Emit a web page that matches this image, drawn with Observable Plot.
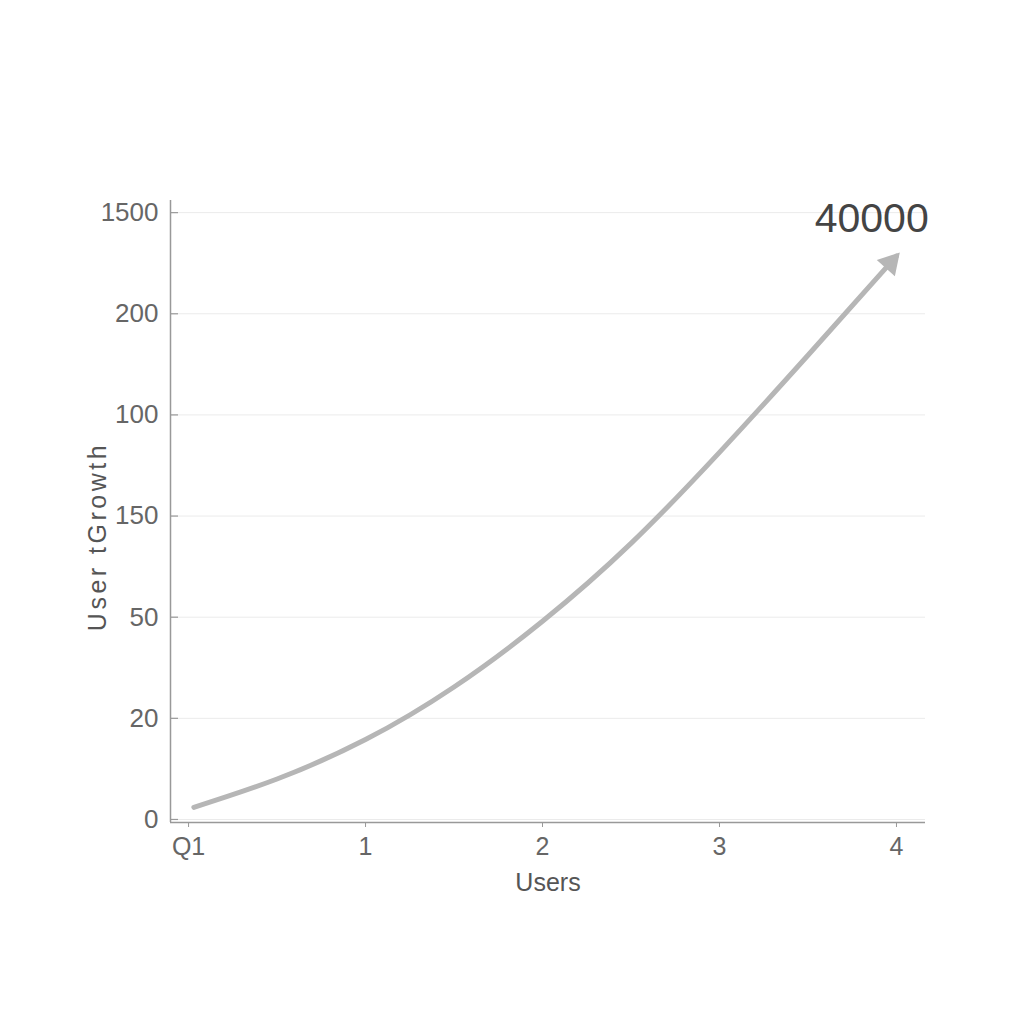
<!DOCTYPE html>
<html><head><meta charset="utf-8">
<script src="https://cdn.jsdelivr.net/npm/d3@7"></script>
<script src="https://cdn.jsdelivr.net/npm/@observablehq/plot@0.6"></script>
<style>
body{margin:0;background:#fff;}
#chart svg{display:block;}
</style>
</head><body><div id="chart"></div>
<script>
// Tick positions and their (printed) labels
const xTicks = [0, 1, 2, 3, 4];
const xTickLabels = ["Q1", "1", "2", "3", "4"];
const yTicks = [0, 1, 2, 3, 4, 5, 6];
const yTickLabels = ["0", "20", "50", "150", "100", "200", "1500"];
// Growth curve (in tick units)
const curveX = [0.03, 0.5, 1, 1.5, 2, 2.5, 3, 3.5, 4];
const curveY = [0.12, 0.40, 0.79, 1.31, 1.96, 2.73, 3.63, 4.59, 5.57];
// Annotation at the arrow head
const annotationText = ["40000"];
const annotationX = [3.86];
const annotationY = [5.94];
const xLabel = "Users";
const yLabel = "User tGrowth";

const curve = curveX.map((x, i) => ({x, y: curveY[i]}));
const last = curve[curve.length - 1];
const prev = curve[curve.length - 2];
const annotation = annotationText.map((t, i) => ({t, x: annotationX[i], y: annotationY[i]}));

const W = 1014, H = 1019;
const mL = 170, mR = 89, mT = 200, mB = 197;
const xDomain = [-0.102, 4.164];
const yDomain = [-0.03, 6.12];

// arrow direction in pixels
const sx = (W - mL - mR) / (xDomain[1] - xDomain[0]);
const sy = (H - mT - mB) / (yDomain[1] - yDomain[0]);
const ddx = (last.x - prev.x) * sx, ddy = -(last.y - prev.y) * sy;
const len = Math.hypot(ddx, ddy);
const ux = ddx / len, uy = ddy / len;
const angle = Math.atan2(ux, -uy) * 180 / Math.PI;
const back = 9;

const font = "Liberation Sans, Arial, sans-serif";
const chart = Plot.plot({
  width: W, height: H,
  marginLeft: mL, marginRight: mR, marginTop: mT, marginBottom: mB,
  style: {fontFamily: font, background: "#fff"},
  x: {domain: xDomain, ticks: xTicks, tickFormat: (d, i) => xTickLabels[xTicks.indexOf(d)], label: null},
  y: {domain: yDomain, ticks: yTicks, tickFormat: d => yTickLabels[yTicks.indexOf(d)], label: null},
  marks: [
    Plot.gridY(yTicks, {stroke: "#ebebeb", strokeOpacity: 1, strokeWidth: 1}),
    Plot.axisY(yTicks, {tickSize: 0, tickPadding: 12, fontSize: 26, fill: "#666", tickFormat: d => yTickLabels[yTicks.indexOf(d)]}),
    Plot.tickY(yTicks, {y: d => d, stroke: "#999", strokeWidth: 1.2, insetRight: W - mL - mR - 8}),
    Plot.axisX(xTicks, {tickSize: 5, tickPadding: 10, fontSize: 25, fill: "#666", stroke: "#999", tickFormat: d => xTickLabels[xTicks.indexOf(d)]}),
    Plot.ruleX([xDomain[0]], {stroke: "#999", strokeWidth: 1.5}),
    Plot.ruleY([yDomain[0]], {stroke: "#999", strokeWidth: 1.5}),
    Plot.line(curve, {x: "x", y: "y", stroke: "#b6b6b6", strokeWidth: 5, curve: "natural", strokeLinecap: "round"}),
    Plot.dot([last], {x: "x", y: "y", symbol: "triangle", r: 9, fill: "#b6b6b6", stroke: "none", rotate: angle, dx: -ux * back, dy: -uy * back}),
    Plot.text(annotation, {x: "x", y: "y", text: "t", fontSize: 41, fill: "#444", textAnchor: "middle", lineAnchor: "middle"}),
    Plot.text([xLabel], {frameAnchor: "bottom", dy: 60, fontSize: 25, fill: "#555", lineAnchor: "middle"}),
    Plot.text([yLabel], {frameAnchor: "left", dx: -73, dy: 25, rotate: -90, fontSize: 25, fill: "#555", textAnchor: "middle", lineAnchor: "middle"})
  ]
});
// y label has extra letter spacing in the reference
d3.select(chart).selectAll("text").filter(function() { return this.textContent === yLabel; })
  .attr("letter-spacing", "3.5px");
document.getElementById("chart").appendChild(chart);
</script>
</body></html>
